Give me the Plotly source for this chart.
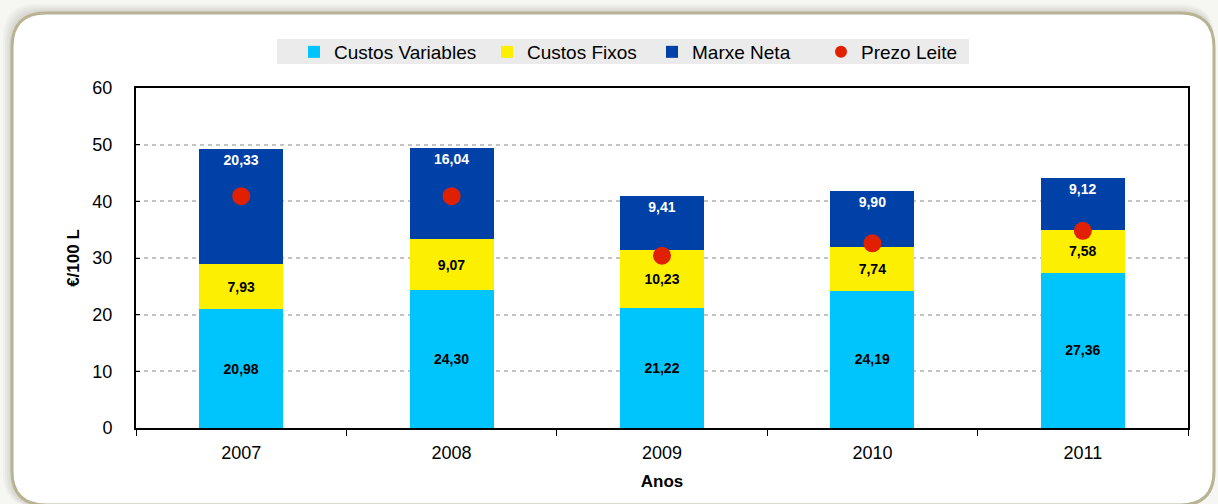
import plotly.graph_objects as go

# Datos (€/100 L)
anos = ["2007", "2008", "2009", "2010", "2011"]
custos_variables = [20.98, 24.30, 21.22, 24.19, 27.36]
custos_fixos = [7.93, 9.07, 10.23, 7.74, 7.58]
marxe_neta = [20.33, 16.04, 9.41, 9.90, 9.12]
prezo_leite = [40.9, 40.9, 30.4, 32.6, 34.8]

W, H = 1218, 504
ML, MR, MT, MB = 136, 30, 88, 76
PW, PH = W - ML - MR, H - MT - MB

FONT = "Liberation Sans, Arial, Helvetica, sans-serif"


def px2paper(x, y):
    return (x - ML) / PW, (H - MB - y) / PH


def rounded_path(x0, y0, x1, y1, r):
    pts = [
        ("M", [(x0 + r, y0)]),
        ("L", [(x1 - r, y0)]),
        ("Q", [(x1, y0), (x1, y0 + r)]),
        ("L", [(x1, y1 - r)]),
        ("Q", [(x1, y1), (x1 - r, y1)]),
        ("L", [(x0 + r, y1)]),
        ("Q", [(x0, y1), (x0, y1 - r)]),
        ("L", [(x0, y0 + r)]),
        ("Q", [(x0, y0), (x0 + r, y0)]),
    ]
    out = []
    for cmd, ps in pts:
        coords = " ".join("%.5f,%.5f" % px2paper(a, b) for a, b in ps)
        out.append(f"{cmd} {coords}")
    return " ".join(out) + " Z"


label_font = dict(size=14, family=FONT, weight="bold")

fig = go.Figure()

fig.add_bar(
    x=anos, y=custos_variables, name="Custos Variables", legendwidth=148,
    marker=dict(color="#00c5fc", line=dict(width=0)),
    texttemplate="%{y:.2f}", textposition="inside", insidetextanchor="middle",
    textfont=dict(color="black", **label_font),
)
fig.add_bar(
    x=anos, y=custos_fixos, name="Custos Fixos", legendwidth=120,
    marker=dict(color="#fcef00", line=dict(width=0)),
    texttemplate="%{y:.2f}", textposition="inside", insidetextanchor="middle",
    textfont=dict(color="black", **label_font),
)
fig.add_bar(
    x=anos, y=marxe_neta, name="Marxe Neta", legendwidth=124,
    marker=dict(color="#0041a8", line=dict(width=0)),
    texttemplate="%{y:.2f}", textposition="inside", insidetextanchor="end",
    textfont=dict(color="white", **label_font),
)
fig.add_scatter(
    x=anos, y=prezo_leite, name="Prezo Leite", mode="markers",
    marker=dict(color="#e02000", size=18),
)

# marco redondeado con sombra
shapes = []
for i, op in enumerate([0.05, 0.05, 0.06, 0.07]):
    d = 8 - 2 * i
    shapes.append(dict(
        type="path", xref="paper", yref="paper", layer="below",
        path=rounded_path(11 - d, 12 - d, 1214, 507, 34),
        fillcolor=f"rgba(120,120,100,{op})", line=dict(width=0),
    ))
shapes.append(dict(
    type="path", xref="paper", yref="paper", layer="below",
    path=rounded_path(12, 13, 1214, 505, 34),
    fillcolor="white", line=dict(color="#b8b393", width=3),
))
# fondo gris de la leyenda
lx0, ly0 = px2paper(277, 39)
lx1, ly1 = px2paper(969, 64)
shapes.append(dict(
    type="rect", xref="paper", yref="paper", layer="below",
    x0=lx0, x1=lx1, y0=ly1, y1=ly0,
    fillcolor="#ebebeb", line=dict(width=0),
))

leg_x, leg_y = px2paper(294, 52)

fig.update_layout(
    width=W, height=H,
    margin=dict(l=ML, r=MR, t=MT, b=MB, autoexpand=False),
    barmode="stack", bargap=0.6,
    separators=",.",
    paper_bgcolor="#f6f6f3", plot_bgcolor="rgba(0,0,0,0)",
    font=dict(family=FONT, size=18, color="black"),
    shapes=shapes,
    showlegend=True,
    legend=dict(
        orientation="h", x=leg_x, xanchor="left", y=leg_y, yanchor="middle",
        bgcolor="rgba(0,0,0,0)", font=dict(size=19, family=FONT),
        itemsizing="constant", traceorder="normal",
    ),
    xaxis=dict(
        title=dict(text="<b>Anos</b>", font=dict(size=17), standoff=14),
        showline=True, linecolor="black", linewidth=2, mirror=True,
        ticks="outside", tickson="boundaries", ticklen=6, tickcolor="black",
        ticklabelstandoff=7,
        showgrid=False,
    ),
    yaxis=dict(
        title=dict(text="<b>€/100 L</b>", font=dict(size=17), standoff=8),
        range=[0, 60], dtick=10,
        showline=True, linecolor="black", linewidth=2, mirror=True,
        ticks="inside", ticklen=4, tickcolor="black",
        ticklabelstandoff=18,
        gridcolor="#c4c4c4", gridwidth=2, griddash="4px,4px",
        zeroline=False,
    ),
)

# sin margen del body para que la figura empiece en (0,0)
fig.write_html(
    "out.html",
    config={"displayModeBar": False},
    post_script="document.body.style.margin='0';",
)
